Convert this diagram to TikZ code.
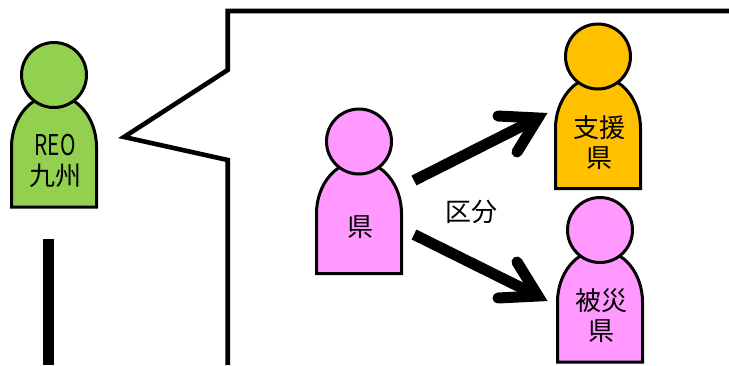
\documentclass[tikz,border=0pt]{standalone}
\usepackage{fontspec}
\setmainfont{Noto Sans CJK JP}
\definecolor{pgreen}{HTML}{92D050}
\definecolor{porange}{HTML}{FFC000}
\definecolor{ppink}{HTML}{FF99FF}
\tikzset{
  outl/.style={draw=black,line width=3pt,line join=miter},
  headc/.style={outl,circle,minimum size=65pt,inner sep=0pt},
  label/.style={font=\fontsize{26}{30}\selectfont,align=center,text=black,inner sep=0pt},
  bigshaft/.style={draw=black,line width=11pt},
  bigbarb/.style={draw=black,line width=11pt,line cap=round,line join=miter},
  bubble/.style={draw=black,line width=4.6pt,line join=miter},
}
\newcommand{\person}[5]{% name, cx, cy, colour, text
  \path[outl,fill=#4] (#2-42.5,#3+132) -- (#2-42.5,#3+72)
     arc[start angle=180,end angle=360,x radius=42.5,y radius=52]
     -- (#2+42.5,#3+132) -- cycle;
  \node[headc,fill=#4] (#1) at (#2,#3) {};
  \node[label] (#1t) at (#2+1,#3+86) {#5};
}
\begin{document}
\begin{tikzpicture}[x=1pt,y=-1pt]
\useasboundingbox (0,0) rectangle (729,365);
\fill[white] (0,0) rectangle (729,365);
\person{reo}{54}{75}{pgreen}{\scalebox{.8}[1.1]{REO}\\九州}
\person{ken}{359}{141.5}{ppink}{県}
\person{shien}{598}{56.5}{porange}{支援\\県}
\person{hisai}{600}{230}{ppink}{被災\\県}
\node[label] (kubun) at (471,212) {区分};
\coordinate (a1s) at (414,180.5);
\coordinate (a1e) at (538,118);
\coordinate (a1p) at (498,116);
\coordinate (a1q) at (517,152);
\coordinate (a2s) at (414,234.5);
\coordinate (a2e) at (538,296);
\coordinate (a2p) at (498,298);
\coordinate (a2q) at (517,262);
\draw[bigshaft] (a1s) -- (a1e);
\draw[bigbarb] (a1p) -- (a1e) -- (a1q);
\draw[bigshaft] (a2s) -- (a2e);
\draw[bigbarb] (a2p) -- (a2e) -- (a2q);
\coordinate (b0) at (729,11);
\coordinate (b1) at (227.7,11);
\coordinate (b2) at (227.7,70);
\coordinate (b3) at (124,137);
\coordinate (b4) at (227.7,160);
\coordinate (b5) at (227.7,365);
\draw[bubble] (b0) -- (b1) -- (b2) -- (b3) -- (b4) -- (b5);
\coordinate (l0) at (48.8,239);
\coordinate (l1) at (48.8,365);
\draw[line width=11pt] (l0) -- (l1);
\end{tikzpicture}
\end{document}
